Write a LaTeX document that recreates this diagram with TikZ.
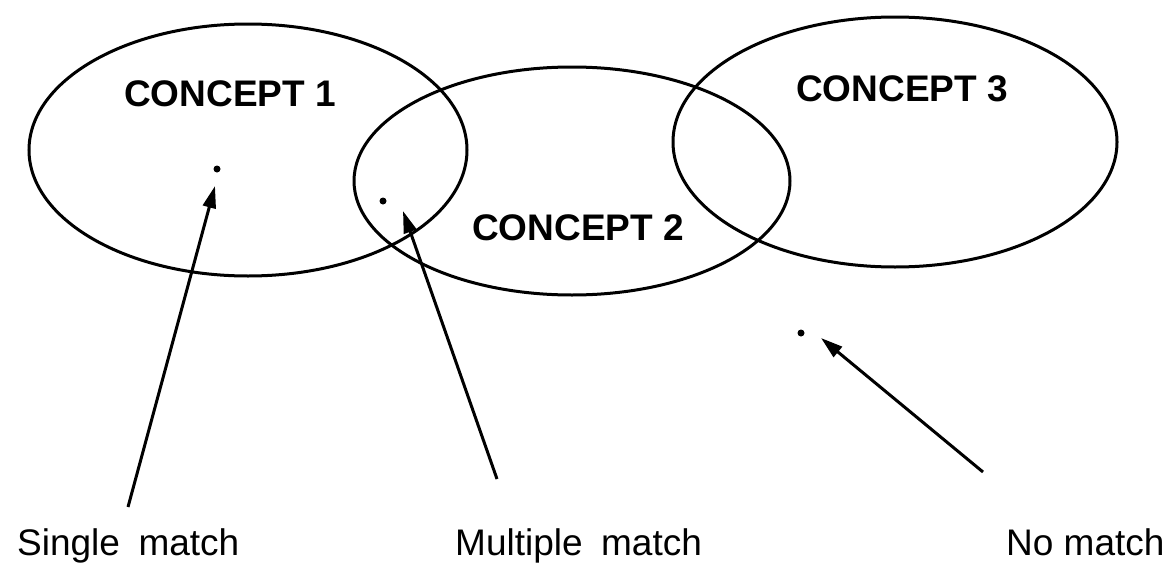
\documentclass[tikz,border=0pt]{standalone}
\usepackage{fontspec}
\setmainfont{Liberation Sans}
\usetikzlibrary{arrows.meta,shapes.geometric}
\tikzset{
  concept/.style={draw, ellipse, line width=3pt, inner sep=0pt},
  clabel/.style={anchor=base west, inner sep=0pt, font=\fontsize{37}{40}\selectfont\bfseries},
  mlabel/.style={anchor=base west, inner sep=0pt, font=\fontsize{37}{40}\selectfont},
  pt/.style={circle, fill=black, inner sep=0pt, minimum size=7pt},
  arr/.style={line width=3pt, -{Triangle[length=22pt,width=13pt]}}
}
\begin{document}
\begin{tikzpicture}[x=1pt,y=-1pt]
\useasboundingbox (0,0) rectangle (1168,565);
\fill[white] (0,0) rectangle (1168,565);
% ellipses
\node[concept, minimum width=438pt, minimum height=252pt] (c1) at (248,150) {};
\node[concept, minimum width=436pt, minimum height=228pt] (c2) at (572,181) {};
\node[concept, minimum width=444pt, minimum height=250pt] (c3) at (895,142) {};
% concept labels
\node[clabel] (l1) at (124,106) {CONCEPT 1};
\node[clabel] (l2) at (472,240) {CONCEPT 2};
\node[clabel] (l3) at (796,101) {CONCEPT 3};
% points
\node[pt] (p1) at (217,169) {};
\node[pt] (p2) at (383,201) {};
\node[pt] (p3) at (801,333) {};
% arrows
\coordinate (f1) at (128,507);
\coordinate (t1) at (215,186);
\coordinate (f2) at (497,479);
\coordinate (t2) at (403,211);
\coordinate (f3) at (983,472);
\coordinate (t3) at (821,338);
\draw[arr] (f1) -- (t1);
\draw[arr] (f2) -- (t2);
\draw[arr] (f3) -- (t3);
% bottom labels
\node[mlabel] (s) at (17,555) {Single\hspace{0.5em}match};
\node[mlabel] (m) at (455,555) {Multiple\hspace{0.5em}match};
\node[mlabel] (n) at (1006,555) {No match};
\end{tikzpicture}
\end{document}
